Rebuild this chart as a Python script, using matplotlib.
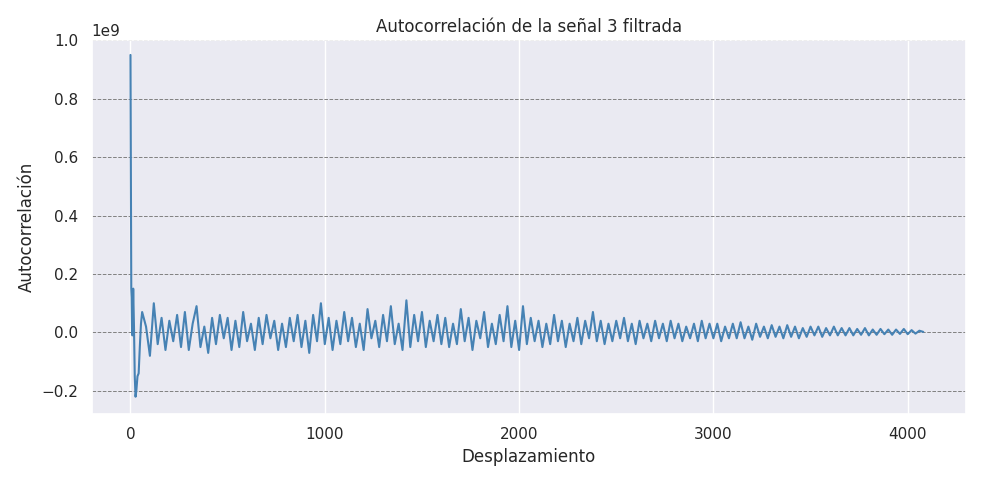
import numpy as np
import matplotlib.pyplot as plt
import seaborn as sns

sns.set_theme(style="darkgrid")

# lags and autocorrelation (in units of 1e9)
lags_start = [0, 2, 4, 6, 8, 10, 14, 18, 22, 26, 30, 36, 42, 48, 54, 60]
vals_start = [0.95, 0.5, 0.15, 0.12, 0.0, -0.01, 0.15, 0.02, -0.15, -0.22,
              -0.2, -0.15, -0.14, -0.05, 0.03, 0.07]

lags_rest = list(range(80, 4081, 20))
vals_rest = [
    0.02, -0.08, 0.10, -0.04, 0.05, -0.06, 0.04, -0.03, 0.06, -0.05,
    0.07, -0.06, 0.03, 0.09, -0.05, 0.02, -0.07, 0.05, -0.04, 0.06,
    -0.02, 0.05, -0.06, 0.04, -0.05, 0.07, -0.03, 0.03, -0.06, 0.05,
    -0.04, 0.06, -0.02, 0.04, -0.06, 0.03, -0.05, 0.05, -0.03, 0.06,
    -0.05, 0.04, -0.07, 0.06, -0.03, 0.10, -0.04, 0.05, -0.06, 0.04,
    -0.04, 0.07, -0.03, 0.05, -0.05, 0.03, -0.06, 0.08, -0.02, 0.04,
    -0.05, 0.06, -0.03, 0.09, -0.04, 0.03, -0.06, 0.11, -0.05, 0.06,
    -0.03, 0.07, -0.05, 0.04, -0.03, 0.06, -0.04, 0.05, -0.05, 0.03,
    -0.04, 0.08, -0.03, 0.05, -0.06, 0.04, -0.02, 0.07, -0.05, 0.03,
    -0.04, 0.06, -0.03, 0.09, -0.05, 0.04, -0.06, 0.09, -0.04, 0.05,
    -0.03, 0.04, -0.05, 0.03, -0.04, 0.06, -0.03, 0.04, -0.05, 0.03,
    -0.03, 0.05, -0.04, 0.04, -0.02, 0.07, -0.03, 0.04, -0.04, 0.03,
    -0.03, 0.04, -0.02, 0.05, -0.03, 0.03, -0.04, 0.04, -0.02, 0.03,
    -0.03, 0.04, -0.02, 0.03, -0.03, 0.04, -0.02, 0.03, -0.03, 0.02,
    -0.02, 0.03, -0.03, 0.04, -0.02, 0.03, -0.02, 0.03, -0.03, 0.02,
    -0.02, 0.03, -0.02, 0.035, -0.02, 0.02, -0.025, 0.03, -0.015, 0.02,
    -0.02, 0.025, -0.015, 0.02, -0.02, 0.025, -0.015, 0.02, -0.02, 0.015,
    -0.015, 0.02, -0.01, 0.02, -0.015, 0.015, -0.01, 0.02, -0.01, 0.015,
    -0.01, 0.015, -0.01, 0.012, -0.008, 0.015, -0.01, 0.01, -0.008, 0.012,
    -0.006, 0.01, -0.008, 0.01, -0.005, 0.012, -0.006, 0.008, -0.004, 0.006,
    0.002,
]

lags = np.array(lags_start + lags_rest)
acf = np.array(vals_start + vals_rest) * 1e9

fig, ax = plt.subplots(figsize=(9.84, 4.84), dpi=100)
ax.plot(lags, acf, color="steelblue", linewidth=1.5)
ax.set_title("Autocorrelación de la señal 3 filtrada")
ax.set_xlabel("Desplazamiento")
ax.set_ylabel("Autocorrelación")
ax.set_xlim(-200, 4300)
ax.set_xticks([0, 1000, 2000, 3000, 4000])
ax.set_ylim(-0.28e9, 1.0e9)
ax.grid(axis="y", linestyle="--", color="gray", linewidth=0.7)
fig.tight_layout()
fig.savefig("out.png")
